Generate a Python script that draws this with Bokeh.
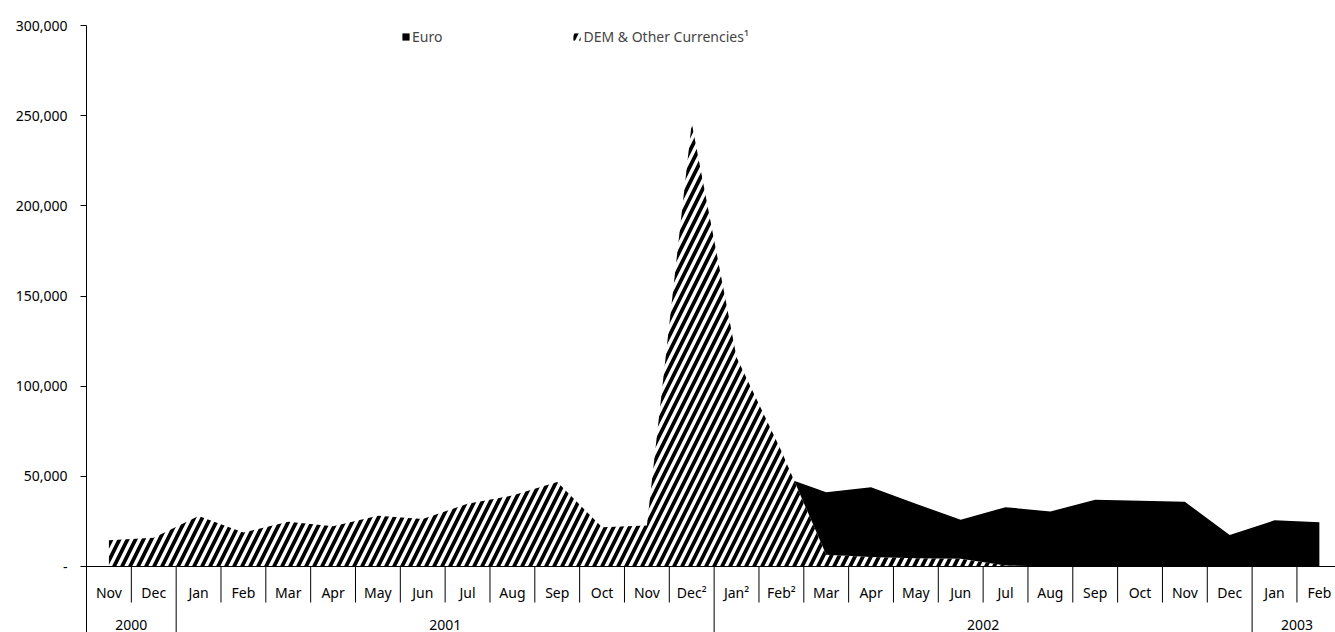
from bokeh.plotting import figure
from bokeh.models import (Range1d, FixedTicker, NumeralTickFormatter, Legend,
                          LegendItem, ColumnDataSource, Span)
from bokeh.core.properties import value
from bokeh.embed import file_html
from bokeh.resources import INLINE

# ---------------- data ----------------
months = ["Nov", "Dec", "Jan", "Feb", "Mar", "Apr", "May", "Jun", "Jul", "Aug",
          "Sep", "Oct", "Nov", "Dec²", "Jan²", "Feb²", "Mar", "Apr", "May", "Jun",
          "Jul", "Aug", "Sep", "Oct", "Nov", "Dec", "Jan", "Feb"]
years = ["2000", "2001", "2002", "2003"]
year_counts = [2, 12, 12, 2]

euro = [0, 0, 0, 0, 0, 0, 0, 0, 0, 0, 0, 0, 0, 0, 0,
        50000, 41200, 44000, 34800, 25900, 32900, 30500, 37000, 36500, 35900,
        17400, 25600, 24600]
dem = [14500, 16000, 28000, 18800, 24800, 22300, 28200, 26300, 34800, 39400,
       46800, 21800, 22700, 246000, 116000, 64000, 6500, 5300, 4600, 4300,
       500, 0, 0, 0, 0, 0, 0, 0]

y_ticks = [0, 50000, 100000, 150000, 200000, 250000, 300000]

# ---------------- layout helpers ----------------
FONT = "Noto Sans"
FS = "14px"
W, H = 1335, 632
left = 86
y_max = 300000
px_top = 25          # pixel row of 300,000 inside the figure
px_zero = 566        # pixel row of 0 inside the figure
val_per_px = y_max / (px_zero - px_top)
y_start = -(H - px_zero) * val_per_px
y_end = y_max + px_top * val_per_px
x_end = 27.86

n = len(months)
xs = [i + 0.5 for i in range(n)]
src = ColumnDataSource(dict(x=xs, euro=euro, dem=dem, zero=[0] * n))

p = figure(width=W, height=H, output_backend="svg", toolbar_location=None,
           x_axis_location=None, x_range=Range1d(0, x_end),
           y_range=Range1d(y_start, y_end),
           min_border_left=left, min_border_right=0, min_border_top=0,
           min_border_bottom=0)
p.outline_line_color = None
p.grid.visible = False
p.background_fill_color = "white"
p.border_fill_color = "white"

r_euro = p.varea(x="x", y1="zero", y2="euro", source=src, fill_color="black")
r_dem = p.varea(x="x", y1="zero", y2="dem", source=src, fill_color="white",
                hatch_pattern="/", hatch_color="black", hatch_scale=16,
                hatch_weight=3.8)

# baseline
p.add_layout(Span(location=0, dimension="width", line_color="black",
                  line_width=1))

# category dividers
bounds = []
acc = 0
for c in year_counts:
    acc += c
    bounds.append(acc)
year_bounds = set(bounds[:-1])
month_x = [b for b in range(1, n) if b not in year_bounds]
p.segment(x0=month_x, x1=month_x, y0=[0] * len(month_x),
          y1=[-36 * val_per_px] * len(month_x), line_color="black",
          line_width=1)
yb = sorted(year_bounds)
p.segment(x0=yb, x1=yb, y0=[0] * len(yb), y1=[y_start] * len(yb),
          line_color="black", line_width=1)

# month labels
p.text(x=xs, y=[0] * n, text=months, y_offset=26, text_align="center",
       text_baseline="middle", text_font=value(FONT), text_font_size=FS,
       text_color="black")
# year labels
starts = [0] + bounds[:-1]
year_x = [(s + e) / 2 for s, e in zip(starts, bounds)]
p.text(x=year_x, y=[0] * len(years), text=years, y_offset=58,
       text_align="center", text_baseline="middle", text_font=value(FONT),
       text_font_size=FS, text_color="black")

# y axis
ax = p.yaxis[0]
ax.ticker = FixedTicker(ticks=y_ticks)
ax.formatter = NumeralTickFormatter(format="0,0")
ax.major_label_overrides = {0: "-"}
ax.bounds = (y_start, y_max)
ax.axis_line_color = "black"
ax.major_tick_line_color = "black"
ax.major_tick_out = 6
ax.major_tick_in = 0
ax.minor_tick_line_color = None
ax.major_label_standoff = 13
ax.major_label_text_font = FONT
ax.major_label_text_font_size = FS
ax.major_label_text_color = "black"

legend = Legend(items=[LegendItem(label="Euro", renderers=[r_euro]),
                       LegendItem(label="DEM & Other Currencies¹",
                                  renderers=[r_dem])],
                orientation="horizontal", location=(315, 586),
                glyph_width=9, glyph_height=9, label_standoff=2, padding=0,
                margin=0, spacing=130, border_line_color=None,
                background_fill_alpha=0, label_text_font=FONT,
                label_text_font_size=FS, label_height=18)
p.add_layout(legend, "center")

open("out.html", "w").write(file_html(p, INLINE))
